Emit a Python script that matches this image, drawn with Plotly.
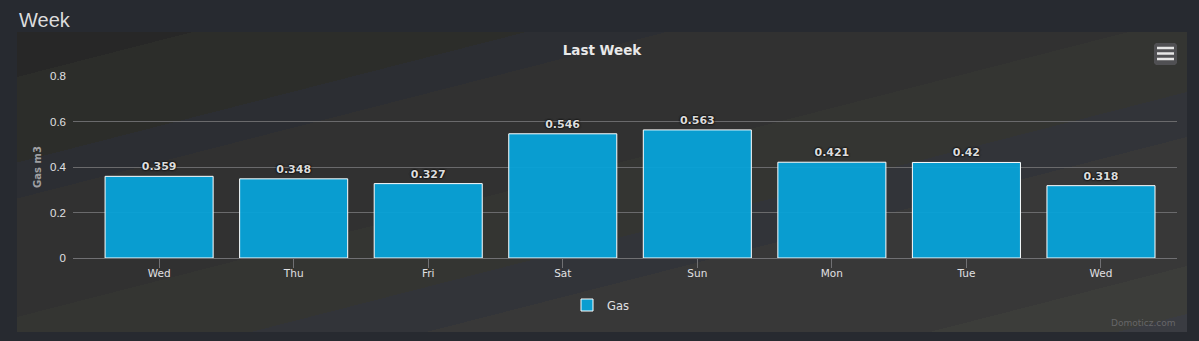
import base64
import plotly.graph_objects as go

# ---- data ----
days = ["Wed", "Thu", "Fri", "Sat", "Sun", "Mon", "Tue", "Wed"]
gas_m3 = [0.359, 0.348, 0.327, 0.546, 0.563, 0.421, 0.42, 0.318]
y_ticks = [0, 0.2, 0.4, 0.6, 0.8]
series_name = "Gas"
chart_title = "Last Week"
page_title = "Week"

W, H = 1199, 341
L, R, T, B = 73, 1177, 76, 258   # plot area in pixels


def px(x):
    return (x - L) / (R - L)


def py(y):
    return (B - y) / (B - T)


# panel background (banded diagonal gradient)
bands = [
    (0.000, "#272727"), (0.075, "#2c2d2a"), (0.2175, "#2c2e33"),
    (0.2775, "#313131"), (0.475, "#343532"), (0.600, "#323439"),
    (0.675, "#383838"), (0.890, "#3c3d3a"), (0.970, "#3a3c42"),
]
stops = ""
for i, (off, col) in enumerate(bands):
    end = bands[i + 1][0] if i + 1 < len(bands) else 1.0
    stops += f"<stop offset='{off}' stop-color='{col}'/><stop offset='{end}' stop-color='{col}'/>"
svg = ("<svg xmlns='http://www.w3.org/2000/svg' width='1170' height='300' viewBox='0 0 1170 300' "
       "preserveAspectRatio='none'><defs><linearGradient id='g' x1='0' y1='0' x2='1' y2='1'>"
       + stops + "</linearGradient></defs><rect width='1170' height='300' fill='url(#g)'/></svg>")
svg_uri = "data:image/svg+xml;base64," + base64.b64encode(svg.encode()).decode()

x_pos = list(range(len(days)))

fig = go.Figure()
fig.add_trace(go.Bar(
    x=x_pos, y=gas_m3, name=series_name,
    marker=dict(color="rgba(6,164,218,0.94)", line=dict(color="#ffffff", width=1)),
    text=[str(v) for v in gas_m3], textposition="outside", cliponaxis=False,
    textfont=dict(family="DejaVu Sans", size=11, color="#dcdcdc", weight="bold",
                  shadow="0px 0px 2px #000, 0px 0px 2px #000"),
    showlegend=True,
))

shapes = [
    # menu button
    dict(type="path", xref="paper", yref="paper",
         path=(f"M {px(1156)},{py(43)} L {px(1175)},{py(43)} L {px(1177)},{py(45)} "
               f"L {px(1177)},{py(63)} L {px(1175)},{py(65)} L {px(1156)},{py(65)} "
               f"L {px(1154)},{py(63)} L {px(1154)},{py(45)} Z"),
         fillcolor="#505053", line=dict(width=0), layer="above"),
]
for yy in (48, 53.5, 59):
    shapes.append(dict(type="line", xref="paper", yref="paper", x0=px(1157), x1=px(1174),
                       y0=py(yy), y1=py(yy), line=dict(color="#e6e6e6", width=2.5), layer="above"))

fig.update_layout(
    width=W, height=H,
    margin=dict(l=L, r=W - R, t=T, b=H - B, pad=0),
    paper_bgcolor="#272a30",
    plot_bgcolor="rgba(0,0,0,0)",
    bargap=0.197,
    images=[dict(source=svg_uri, xref="paper", yref="paper", x=px(17), y=py(32),
                 sizex=px(1187) - px(17), sizey=py(32) - py(332), sizing="stretch",
                 xanchor="left", yanchor="top", layer="below")],
    shapes=shapes,
    title=dict(text=chart_title, xref="paper", x=px(602), xanchor="center",
               yref="container", y=1 - 50 / H, yanchor="middle",
               font=dict(family="DejaVu Sans", size=13.5, color="#e8e8e8", weight="bold")),
    xaxis=dict(range=[-0.64, len(days) - 0.435], tickvals=x_pos, ticktext=days,
               showgrid=False, zeroline=False, showline=True, linecolor="#707073", linewidth=1,
               ticks="outside", ticklen=9, tickcolor="#707073", tickwidth=1,
               ticklabelstandoff=-4,
               tickfont=dict(family="DejaVu Sans", size=10.5, color="#e0e0e3"),
               fixedrange=True),
    yaxis=dict(range=[0, 0.8], tickvals=y_ticks, ticktext=[f"{v:g}" for v in y_ticks],
               showgrid=True, gridcolor="#6a6a6c", gridwidth=1, zeroline=False,
               ticks="", ticklabelstandoff=6,
               tickfont=dict(family="Liberation Sans", size=11.5, color="#e0e0e3"),
               title=dict(text="Gas m3", standoff=6,
                          font=dict(family="DejaVu Sans", size=10, color="#a0a0a2", weight="bold")),
               fixedrange=True),
    legend=dict(orientation="h", x=px(567), xanchor="left", y=py(305), yanchor="middle",
                bgcolor="rgba(0,0,0,0)", font=dict(family="DejaVu Sans", size=11.5, color="#e0e0e3")),
    annotations=[
        dict(text=page_title, xref="paper", yref="paper", x=px(17), y=py(20), xanchor="left",
             yanchor="middle", showarrow=False,
             font=dict(family="Liberation Sans", size=20, color="#dcdcdc")),
        dict(text="Domoticz.com", xref="paper", yref="paper", x=px(1178), y=py(323), xanchor="right",
             yanchor="middle", showarrow=False,
             font=dict(family="DejaVu Sans", size=9, color="#666668")),
    ],
)

fig.write_html("out.html", config={"displayModeBar": False})
